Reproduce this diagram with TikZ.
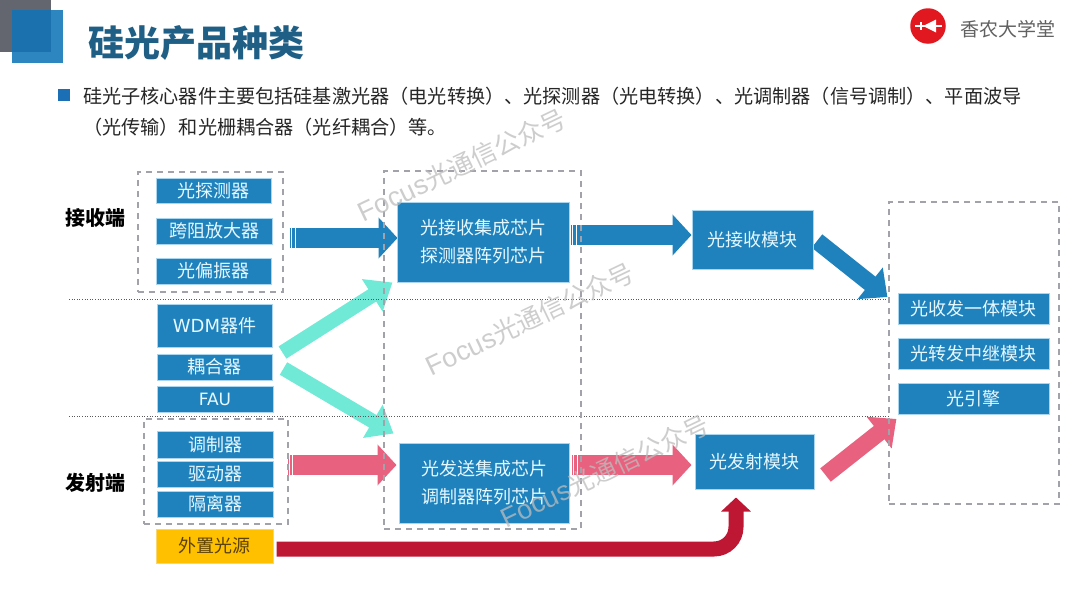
\documentclass[tikz,border=0pt]{standalone}
\usepackage{fontspec}
\setmainfont{Noto Sans CJK SC}
\newfontfamily\wmlatin{Liberation Sans}
\newfontfamily\wideLatin{DejaVu Sans}
\usetikzlibrary{arrows.meta,calc}
\definecolor{boxblue}{HTML}{1F82BD}
\definecolor{boxglow}{HTML}{A9D5EE}
\definecolor{boxtext}{HTML}{E6F8FF}
\definecolor{teal}{HTML}{70EAD6}
\definecolor{rose}{HTML}{E8627F}
\definecolor{crimson}{HTML}{BE1733}
\definecolor{titleblue}{HTML}{1F5F85}
\definecolor{dashgrey}{HTML}{A2A2AA}
\definecolor{cornergrey}{HTML}{63656F}
\definecolor{cornerblue}{HTML}{2E86C1}
\definecolor{cornerdeep}{HTML}{1A71AE}
\definecolor{bulletblue}{HTML}{1A6FB5}
\definecolor{logored}{HTML}{E21820}
\definecolor{amber}{HTML}{FFC000}
\definecolor{amberglow}{HTML}{FAD76E}
\definecolor{ambertext}{HTML}{5A410A}
\definecolor{wmgrey}{HTML}{BDBDBD}
\pgfdeclarelayer{back}
\pgfdeclarelayer{arrows}
\pgfsetlayers{back,arrows,main}
\tikzset{
  x=1pt,y=-1pt,
  bluebox/.style={draw=boxglow,line width=1pt,fill=boxblue,text=boxtext,inner sep=0pt,font=\fontsize{18}{22}\selectfont,align=center},
  amberbox/.style={bluebox,draw=amberglow,fill=amber,text=ambertext},
  dashbox/.style={draw=dashgrey,line width=1.2pt,dash pattern=on 6pt off 5pt,inner sep=0pt},
  sidelabel/.style={inner sep=0pt,font=\fontsize{20}{24}\selectfont\bfseries,text=black},
  bodytext/.style={inner sep=0pt,anchor=west,font=\fontsize{19.15}{23}\selectfont,text=black!85},
  bigarrow/.style={line width=20pt,draw=#1,-{Triangle[length=19pt,width=40pt,fill=#1]}},
  slimarrow/.style={line width=17pt,draw=#1,-{Triangle[length=22pt,width=39pt,fill=#1]}},
  tealarrow/.style={line width=14.5pt,draw=teal,-{Triangle[length=24pt,width=37pt,fill=teal]}},
  redarrow/.style={line width=15pt,draw=crimson,rounded corners=22pt,-{Triangle[length=14pt,width=29pt,fill=crimson]}},
  divider/.style={draw=black!65,line width=.7pt,dash pattern=on 1pt off 1.6pt},
  watermark/.style={inner sep=0pt,rotate=25.5,text=wmgrey,opacity=.75,font=\fontsize{25.5}{30}\selectfont},
  stripe/.style={draw=white,line width=1pt},
}
\newcommand{\rectnode}[7][bluebox]{%
  \pgfmathsetmacro{\cxx}{(#3+#5)/2}\pgfmathsetmacro{\cyy}{(#4+#6)/2}%
  \pgfmathsetmacro{\wdd}{#5-#3}\pgfmathsetmacro{\htt}{#6-#4}%
  \node[#1,minimum width=\wdd pt,minimum height=\htt pt] (#2) at (\cxx,\cyy) {#7};}
\begin{document}
\begin{tikzpicture}
\useasboundingbox (0,0) rectangle (1080,608);
\begin{pgfonlayer}{back}
\fill[white] (0,0) rectangle (1080,608);
\fill[cornergrey] (0,0) rectangle (51,52);
\fill[cornerblue] (12,10) rectangle (63,63);
\fill[cornerdeep] (12,10) rectangle (51,52);
\end{pgfonlayer}

% header
\node[inner sep=0pt,anchor=west,font=\fontsize{36}{40}\selectfont\bfseries,text=titleblue] (title) at (88,43) {硅光产品种类};
\node[fill=bulletblue,minimum size=11.5pt,inner sep=0pt] (bullet) at (64,95) {};
\node[bodytext] (line1) at (83,96) {硅光子核心器件主要包括硅基激光器（电光转换）、光探测器（光电转换）、光调制器（信号调制）、平面波导};
\node[bodytext] (line2) at (83,127) {（光传输）和光栅耦合器（光纤耦合）等。};

% logo
\node[circle,fill=logored,minimum size=35.5pt,inner sep=0pt] (logo) at (928,26) {};
\draw[white,line width=1.6pt] (915,26) -- (942,26);
\draw[white,line width=1.6pt] (921,22) -- (921,30);
\fill[white] (923,26) -- (936,19.5) -- (936,32.5) -- cycle;
\node[inner sep=0pt,anchor=west,font=\fontsize{19}{23}\selectfont,text=black!62] (brand) at (960,29) {香农大学堂};

% dividers
\coordinate (d1a) at (69,299); \coordinate (d1b) at (889,299);
\coordinate (d2a) at (69,416); \coordinate (d2b) at (889,416);
\draw[divider] (d1a) -- (d1b);
\draw[divider] (d2a) -- (d2b);

% dashed groups
\rectnode[dashbox]{groupR}{138}{172}{283}{292}{}
\rectnode[dashbox]{groupT}{144}{419}{288}{524}{}
\rectnode[dashbox]{groupC}{384}{171}{581}{529}{}
\rectnode[dashbox]{groupO}{889}{202}{1059}{504}{}

% boxes
\rectnode{pd}{156}{178}{271}{203}{光探测器}
\rectnode{tia}{156}{218}{272}{244}{跨阻放大器}
\rectnode{pol}{156}{258}{271}{284}{光偏振器}
\rectnode{wdm}{157}{304}{272}{347}{{\wideLatin WDM}器件}
\rectnode{cpl}{157}{354}{272}{380}{耦合器}
\rectnode{fau}{157}{386}{273}{412}{{\wideLatin\fontsize{17}{20}\selectfont FAU}}
\rectnode{mod}{157}{431}{273}{458}{调制器}
\rectnode{drv}{157}{461}{273}{487}{驱动器}
\rectnode{iso}{157}{491}{273}{517}{隔离器}
\rectnode[amberbox]{laser}{156}{529}{273}{563}{外置光源}
\rectnode{chipR}{397}{202}{569}{282}{光接收集成芯片\\[6pt]探测器阵列芯片}
\rectnode{chipT}{399}{443}{569}{523}{光发送集成芯片\\[6pt]调制器阵列芯片}
\rectnode{modR}{692}{210}{813}{269}{光接收模块}
\rectnode{modT}{695}{434}{814}{489}{光发射模块}
\rectnode{oA}{898}{293}{1049}{324}{光收发一体模块}
\rectnode{oB}{898}{338}{1049}{369}{光转发中继模块}
\rectnode{oC}{898}{383}{1049}{414}{光引擎}

\node[sidelabel] (rxlabel) at (95,218) {接收端};
\node[sidelabel] (txlabel) at (95,483) {发射端};

% connectors
\begin{pgfonlayer}{arrows}
\draw[bigarrow=boxblue] ([xshift=6pt,yshift=-6pt]groupR.east) -- ([xshift=1pt,yshift=4pt]chipR.west);
\draw[bigarrow=boxblue] ([xshift=1pt,yshift=7pt]chipR.east) -- ([yshift=4.5pt]modR.west);
\draw[slimarrow=boxblue] ([xshift=3.5pt,yshift=-1.5pt]modR.east) -- ([xshift=-1pt,yshift=56pt]groupO.west);
\draw[tealarrow] ([xshift=10pt,yshift=-5pt]wdm.south east) -- ([xshift=-4pt]chipR.south west);
\draw[tealarrow] ([xshift=11pt,yshift=-15pt]cpl.north east) -- ([xshift=-5pt,yshift=9pt]chipT.north west);
\draw[bigarrow=rose] ([xshift=-1pt,yshift=6.5pt]groupT.east) -- ([xshift=-2pt,yshift=18pt]chipT.west);
\draw[bigarrow=rose] ([xshift=2pt,yshift=18pt]chipT.east) -- ([xshift=-3pt,yshift=-3.5pt]modT.west);
\draw[slimarrow=rose] ([xshift=11pt,yshift=-13.5pt]modT.east) -- ([xshift=8pt,yshift=-66pt]groupO.west);
\draw[redarrow] ([xshift=3pt,yshift=-3pt]laser.east) -| ([xshift=-18.5pt,yshift=-8pt]modT.south);
% striped tails
\draw[stripe] (291.5,227) -- (291.5,249) (295,227) -- (295,249);
\draw[stripe] (572,224) -- (572,246) (576.5,224) -- (576.5,246);
\draw[stripe] (289.5,454) -- (289.5,476) (292.5,454) -- (292.5,476);
\draw[stripe] (573.5,454) -- (573.5,476) (577.5,454) -- (577.5,476);
\end{pgfonlayer}

% watermarks
\node[watermark] (wm1) at (462,165) {{\wmlatin\fontsize{27}{30}\selectfont Focus}光通信公众号};
\node[watermark] (wm2) at (530,319) {{\wmlatin\fontsize{27}{30}\selectfont Focus}光通信公众号};
\node[watermark] (wm3) at (605,471) {{\wmlatin\fontsize{27}{30}\selectfont Focus}光通信公众号};
\end{tikzpicture}
\end{document}
